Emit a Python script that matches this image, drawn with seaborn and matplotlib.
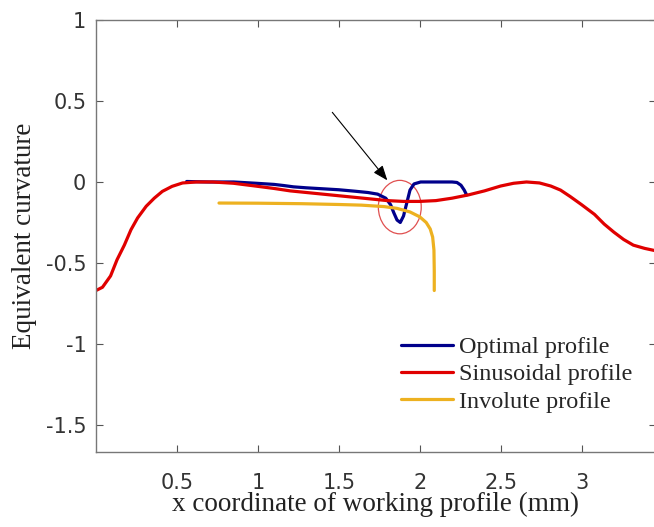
import matplotlib
matplotlib.use("Agg")
import matplotlib.pyplot as plt
from matplotlib.patches import Ellipse
import pandas as pd
import seaborn as sns

# curves
opt_x = [0.56, 0.70, 0.85, 0.99, 1.10, 1.16, 1.22, 1.30, 1.40, 1.50, 1.60, 1.68, 1.74,
         1.79, 1.82, 1.84, 1.86, 1.88, 1.90, 1.92, 1.94, 1.965, 2.006, 2.10, 2.20,
         2.23, 2.255, 2.275, 2.29]
opt_y = [0.003, 0.0, 0.0, -0.008, -0.015, -0.022, -0.03, -0.036, -0.042, -0.048, -0.057,
         -0.065, -0.075, -0.10, -0.14, -0.19, -0.235, -0.25, -0.21, -0.13, -0.05, -0.012,
         0.0, 0.0, 0.0, -0.003, -0.02, -0.05, -0.08]

sin_x = [0.0, 0.04, 0.09, 0.13, 0.175, 0.216, 0.257, 0.31, 0.36, 0.41, 0.47, 0.535, 0.62,
         0.72, 0.85, 1.0, 1.1, 1.2, 1.33, 1.47, 1.6, 1.7, 1.8, 1.9, 2.0, 2.1, 2.2, 2.3,
         2.4, 2.5, 2.58, 2.66, 2.74, 2.81, 2.87, 2.93, 3.0, 3.08, 3.14, 3.2, 3.26, 3.32,
         3.39, 3.46]
sin_y = [-0.67, -0.65, -0.58, -0.48, -0.39, -0.295, -0.222, -0.15, -0.10, -0.058, -0.027,
         -0.006, 0.0, 0.0, -0.008, -0.027, -0.04, -0.055, -0.068, -0.082, -0.095, -0.105,
         -0.115, -0.12, -0.12, -0.115, -0.10, -0.08, -0.055, -0.025, -0.008, 0.0, -0.006,
         -0.025, -0.05, -0.09, -0.14, -0.20, -0.26, -0.31, -0.355, -0.39, -0.41, -0.425]

inv_x = [0.76, 1.0, 1.27, 1.5, 1.64, 1.78, 1.86, 1.94, 2.0, 2.04, 2.065, 2.08, 2.088,
         2.09, 2.09]
inv_y = [-0.13, -0.131, -0.134, -0.139, -0.143, -0.152, -0.163, -0.185, -0.215, -0.25,
         -0.29, -0.34, -0.42, -0.55, -0.67]

labels = ["Optimal profile", "Sinusoidal profile", "Involute profile"]
colors = ["#00008b", "#e00000", "#edb120"]

sns.set_style("ticks")
plt.rcParams["font.family"] = ["DejaVu Sans"]

fig = plt.figure(figsize=(6.54, 5.27), dpi=100)
ax = fig.add_axes([96 / 654, 1 - 452 / 527, 560 / 654, 432 / 527])

series = [(opt_x, opt_y), (sin_x, sin_y), (inv_x, inv_y)]
for (xs, ys), lab, col in zip(series, labels, colors):
    df = pd.DataFrame({"x": xs, "y": ys})
    sns.lineplot(data=df, x="x", y="y", ax=ax, color=col, linewidth=2.3,
                 estimator=None, sort=False, label=lab)

# highlight of the dip
ax.add_patch(Ellipse((1.877, -0.155), 0.265, 0.33, fill=False, edgecolor="#e05050", linewidth=0.9))
ax.annotate("", xy=(1.80, 0.01), xytext=(1.46, 0.43),
            arrowprops=dict(arrowstyle="-|>,head_length=0.9,head_width=0.35", color="black",
                            linewidth=0.8, shrinkA=0, shrinkB=0))

ax.set_xlim(0, 3.46)
ax.set_ylim(-1.667, 1)
ax.set_xticks([0.5, 1, 1.5, 2, 2.5, 3])
ax.set_xticklabels(["0.5", "1", "1.5", "2", "2.5", "3"])
ax.set_yticks([-1.5, -1, -0.5, 0, 0.5, 1])
ax.set_yticklabels(["-1.5", "-1", "-0.5", "0", "0.5", "1"])
ax.tick_params(direction="in", top=True, right=True, length=5, width=0.8,
               color="#555555", labelsize=15, labelcolor="#333333")
ax.tick_params(axis="x", pad=15)
ax.tick_params(axis="y", pad=7)
for sp in ax.spines.values():
    sp.set_color("#777777")
    sp.set_linewidth(1.0)

ax.set_xlabel("x coordinate of working profile (mm)", family="Liberation Serif",
              fontsize=19.5, color="#222222", labelpad=-1)
ax.set_ylabel("Equivalent curvature", family="Liberation Serif",
              fontsize=19.5, color="#222222", labelpad=6)

ax.legend(loc="upper left", bbox_to_anchor=(401 / 654, 1 - 336 / 527),
          bbox_transform=fig.transFigure, frameon=False, borderpad=0, borderaxespad=0,
          handlelength=2.15, handletextpad=0.25, labelspacing=0.22,
          prop={"family": "Liberation Serif", "size": 17.5})

fig.savefig("out.png", dpi=100)
